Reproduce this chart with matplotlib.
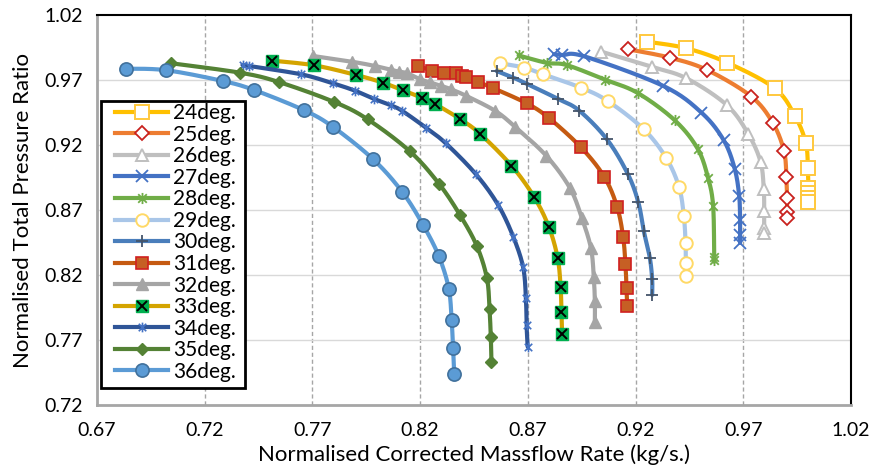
import numpy as np
import matplotlib
matplotlib.use("Agg")
import matplotlib.pyplot as plt
from matplotlib.path import Path
from matplotlib.lines import Line2D
from matplotlib.patches import Rectangle
from matplotlib.legend_handler import HandlerTuple

plt.rcParams['font.family'] = ['Lato', 'DejaVu Sans']

# ---- data: normalised corrected massflow (x) vs normalised total pressure ratio (y)
labels = ["24deg.", "25deg.", "26deg.", "27deg.", "28deg.", "29deg.", "30deg.",
          "31deg.", "32deg.", "33deg.", "34deg.", "35deg.", "36deg."]

x24 = [0.9253, 0.9436, 0.9626, 0.9846, 0.9939, 0.9990, 1.0000, 1.0002, 1.0002, 1.0002, 1.0002]
y24 = [0.9995, 0.9944, 0.9833, 0.9636, 0.9426, 0.9218, 0.9021, 0.8872, 0.8829, 0.8790, 0.8764]

x25 = [0.9166, 0.9359, 0.9532, 0.9738, 0.9838, 0.9889, 0.9900, 0.9903, 0.9903, 0.9903]
y25 = [0.9936, 0.9872, 0.9777, 0.9572, 0.9367, 0.9154, 0.8957, 0.8790, 0.8687, 0.8640]

x26 = [0.9041, 0.9274, 0.9436, 0.9623, 0.9722, 0.9780, 0.9795, 0.9797, 0.9797, 0.9797]
y26 = [0.9918, 0.9802, 0.9713, 0.9508, 0.9288, 0.9072, 0.8862, 0.8693, 0.8560, 0.8524]

x27 = [0.8822, 0.8859, 0.8962, 0.9328, 0.9506, 0.9609, 0.9660, 0.9681, 0.9685, 0.9685, 0.9685]
y27 = [0.9898, 0.9892, 0.9882, 0.9655, 0.9449, 0.9237, 0.9018, 0.8808, 0.8624, 0.8508, 0.8447]

x28 = [0.8657, 0.8787, 0.8880, 0.9059, 0.9210, 0.9382, 0.9488, 0.9537, 0.9560, 0.9565, 0.9565]
y28 = [0.9889, 0.9832, 0.9815, 0.9702, 0.9600, 0.9390, 0.9172, 0.8944, 0.8731, 0.8339, 0.8316]

x29 = [0.8570, 0.8683, 0.8771, 0.8946, 0.9070, 0.9238, 0.9343, 0.9402, 0.9424, 0.9432, 0.9433, 0.9433]
y29 = [0.9829, 0.9795, 0.9744, 0.9641, 0.9539, 0.9321, 0.9098, 0.8875, 0.8654, 0.8449, 0.8291, 0.8193]

x30 = [0.8555, 0.8633, 0.8694, 0.8841, 0.8938, 0.9067, 0.9164, 0.9213, 0.9238, 0.9266, 0.9277, 0.9277]
y30 = [0.9769, 0.9718, 0.9671, 0.9554, 0.9465, 0.9244, 0.8977, 0.8758, 0.8539, 0.8334, 0.8167, 0.8047]

x31 = [0.8188, 0.8256, 0.8312, 0.8366, 0.8395, 0.8415, 0.8469, 0.8537, 0.8694, 0.8796,
       0.8946, 0.9054, 0.9114, 0.9142, 0.9153, 0.9158, 0.9161]
y31 = [0.9808, 0.9772, 0.9756, 0.9752, 0.9731, 0.9721, 0.9685, 0.9639, 0.9521, 0.9410,
       0.9183, 0.8957, 0.8726, 0.8495, 0.8283, 0.8098, 0.7962]

x32 = [0.7702, 0.7882, 0.7990, 0.8067, 0.8103, 0.8140, 0.8199, 0.8245, 0.8299, 0.8343,
       0.8415, 0.8547, 0.8640, 0.8786, 0.8894, 0.8950, 0.8993, 0.9006, 0.9011, 0.9011]
y32 = [0.9885, 0.9841, 0.9808, 0.9777, 0.9764, 0.9752, 0.9706, 0.9682, 0.9654, 0.9629,
       0.9577, 0.9464, 0.9341, 0.9116, 0.8873, 0.8642, 0.8405, 0.8185, 0.8000, 0.7841]

x33 = [0.7512, 0.7708, 0.7902, 0.8026, 0.8119, 0.8207, 0.8268, 0.8387, 0.8480, 0.8624,
       0.8728, 0.8797, 0.8838, 0.8852, 0.8856, 0.8859]
y33 = [0.9849, 0.9813, 0.9739, 0.9680, 0.9621, 0.9564, 0.9516, 0.9398, 0.9283, 0.9041,
       0.8803, 0.8572, 0.8334, 0.8111, 0.7914, 0.7747]

x34 = [0.7377, 0.7404, 0.7647, 0.7794, 0.7897, 0.7987, 0.8064, 0.8117, 0.8227, 0.8319,
       0.8459, 0.8562, 0.8632, 0.8678, 0.8691, 0.8694, 0.8699]
y34 = [0.9815, 0.9808, 0.9744, 0.9675, 0.9618, 0.9554, 0.9506, 0.9462, 0.9333, 0.9213,
       0.8975, 0.8739, 0.8495, 0.8260, 0.8021, 0.7816, 0.7649]

x35 = [0.7043, 0.7365, 0.7543, 0.7801, 0.7956, 0.8152, 0.8287, 0.8384, 0.8463, 0.8510,
       0.8522, 0.8528, 0.8531]
y35 = [0.9829, 0.9756, 0.9685, 0.9531, 0.9398, 0.9152, 0.8903, 0.8664, 0.8424, 0.8175,
       0.7939, 0.7726, 0.7534]

x36 = [0.6835, 0.7022, 0.7285, 0.7429, 0.7659, 0.7794, 0.7982, 0.8117, 0.8213, 0.8287,
       0.8333, 0.8346, 0.8353, 0.8358]
y36 = [0.9787, 0.9775, 0.9692, 0.9623, 0.9469, 0.9341, 0.9090, 0.8839, 0.8587, 0.8344,
       0.8095, 0.7855, 0.7639, 0.7442]

xs = [x24, x25, x26, x27, x28, x29, x30, x31, x32, x33, x34, x35, x36]
ys = [y24, y25, y26, y27, y28, y29, y30, y31, y32, y33, y34, y35, y36]

x_ticks = [0.67, 0.72, 0.77, 0.82, 0.87, 0.92, 0.97, 1.02]
y_ticks = [0.72, 0.77, 0.82, 0.87, 0.92, 0.97, 1.02]

# asterisk marker: an x with a vertical stroke
ast = Path([(-1, -1), (1, 1), (-1, 1), (1, -1), (0, -1.3), (0, 1.3)],
           [Path.MOVETO, Path.LINETO, Path.MOVETO, Path.LINETO, Path.MOVETO, Path.LINETO])

styles = [
    dict(color="#FFC000", marker="s", ms=9.5, mfc="white", mec="#FFC83D", mew=1.4),
    dict(color="#ED7D31", marker="D", ms=7, mfc="white", mec="#C9211E", mew=1.3),
    dict(color="#BFBFBF", marker="^", ms=9, mfc="white", mec="#BFBFBF", mew=1.4),
    dict(color="#4472C4", marker="x", ms=8, mfc="none", mec="#4472C4", mew=1.3),
    dict(color="#70AD47", marker=ast, ms=8, mfc="none", mec="#70AD47", mew=1.3),
    dict(color="#A9C6E8", marker="o", ms=9, mfc="white", mec="#FFD966", mew=1.4),
    dict(color="#4A7EBB", marker="+", ms=9, mfc="none", mec="#44546A", mew=1.3),
    dict(color="#C55A11", marker="s", ms=8.5, mfc="#C65F24", mec="#D02020", mew=1.2),
    dict(color="#A5A5A5", marker="^", ms=8.5, mfc="#A5A5A5", mec="#A5A5A5", mew=1.0),
    dict(color="#D4A400", marker="s", ms=9, mfc="#00B050", mec="#00B050", mew=1.0),
    dict(color="#2F5597", marker=ast, ms=7, mfc="none", mec="#4472C4", mew=1.2),
    dict(color="#548235", marker="D", ms=6.5, mfc="#548235", mec="#548235", mew=1.0),
    dict(color="#5B9BD5", marker="o", ms=9.5, mfc="#5B9BD5", mec="#41719C", mew=1.2),
]

XMIN, XMAX, YMIN, YMAX = 0.67, 1.02, 0.72, 1.02


def smooth_curve(x, y, n=24):
    """Smoothed connecting line through the points (Bezier, Catmull-Rom tangents)."""
    x = np.asarray(x, float); y = np.asarray(y, float)
    p = np.column_stack([(x - XMIN) / (XMAX - XMIN), (y - YMIN) / (YMAX - YMIN)])
    P = np.vstack([p[0], p, p[-1]])
    t = np.linspace(0, 1, n, endpoint=False)[:, None]
    segs = []
    for i in range(len(p) - 1):
        p0, p1, p2, p3 = P[i], P[i + 1], P[i + 2], P[i + 3]
        c1 = p1 + (p2 - p0) / 6.0
        c2 = p2 - (p3 - p1) / 6.0
        b = ((1 - t) ** 3) * p1 + 3 * ((1 - t) ** 2) * t * c1 + 3 * (1 - t) * t ** 2 * c2 + t ** 3 * p2
        segs.append(b)
    segs.append(p[-1][None, :])
    s = np.vstack(segs)
    return s[:, 0] * (XMAX - XMIN) + XMIN, s[:, 1] * (YMAX - YMIN) + YMIN


fig = plt.figure(figsize=(8.79, 4.72), dpi=100)
ax = fig.add_axes([97 / 879, 1 - 405 / 472, 754 / 879, 390 / 472])

handles = []
for i, (x, y, st) in enumerate(zip(xs, ys, styles)):
    sx, sy = smooth_curve(x, y)
    ax.plot(sx, sy, color=st["color"], lw=3, solid_capstyle="round", zorder=3 + i * 0.1)
    ax.plot(x, y, ls="none", marker=st["marker"], ms=st["ms"], mfc=st["mfc"],
            mec=st["mec"], mew=st["mew"], zorder=3.05 + i * 0.1)
    h = Line2D([], [], color=st["color"], lw=3, marker=st["marker"], ms=st["ms"],
               mfc=st["mfc"], mec=st["mec"], mew=st["mew"])
    if labels[i] == "33deg.":
        ax.plot(x, y, ls="none", marker="x", ms=7, mec="black", mew=1.4, zorder=3.07 + i * 0.1)
        h = (h, Line2D([], [], ls="none", marker="x", ms=7, mec="black", mew=1.4))
    handles.append(h)

ax.set_xlim(XMIN, XMAX)
ax.set_ylim(YMIN, YMAX)
ax.set_xticks(x_ticks)
ax.set_yticks(y_ticks)
ax.set_xticklabels([f"{v:.2f}" for v in x_ticks])
ax.set_yticklabels([f"{v:.2f}" for v in y_ticks])
ax.tick_params(length=0, labelsize=14)
ax.tick_params(axis="y", pad=10)
ax.tick_params(axis="x", pad=12)

for v in x_ticks[1:-1]:
    ax.axvline(v, color="#A6A6A6", lw=1, ls=(0, (3, 2)), zorder=1)
for v in y_ticks[1:-1]:
    ax.axhline(v, color="#D9D9D9", lw=1, zorder=1)

for side in ("top", "right"):
    ax.spines[side].set_color("black")
    ax.spines[side].set_linewidth(1.5)
for side in ("left", "bottom"):
    ax.spines[side].set_color("#A6A6A6")
    ax.spines[side].set_linewidth(2)

ax.set_xlabel("Normalised Corrected Massflow Rate (kg/s.)", fontsize=16, labelpad=4)
ax.set_ylabel("Normalised Total Pressure Ratio", fontsize=16, labelpad=8)

# legend box
box = Rectangle((4 / 754, 1 - 373 / 390), 144 / 754, 287 / 390, transform=ax.transAxes,
                facecolor="white", edgecolor="black", lw=2, zorder=9)
ax.add_patch(box)
leg = ax.legend(handles, labels, loc="upper left", bbox_to_anchor=(18 / 754, 1 - 88 / 390),
                handler_map={tuple: HandlerTuple(ndivide=1, pad=0)},
                fontsize=15, frameon=False, borderpad=0, labelspacing=0.075,
                handlelength=2.55, handletextpad=0.25, borderaxespad=0)
leg.set_zorder(10)

fig.savefig("out.png", dpi=100)
